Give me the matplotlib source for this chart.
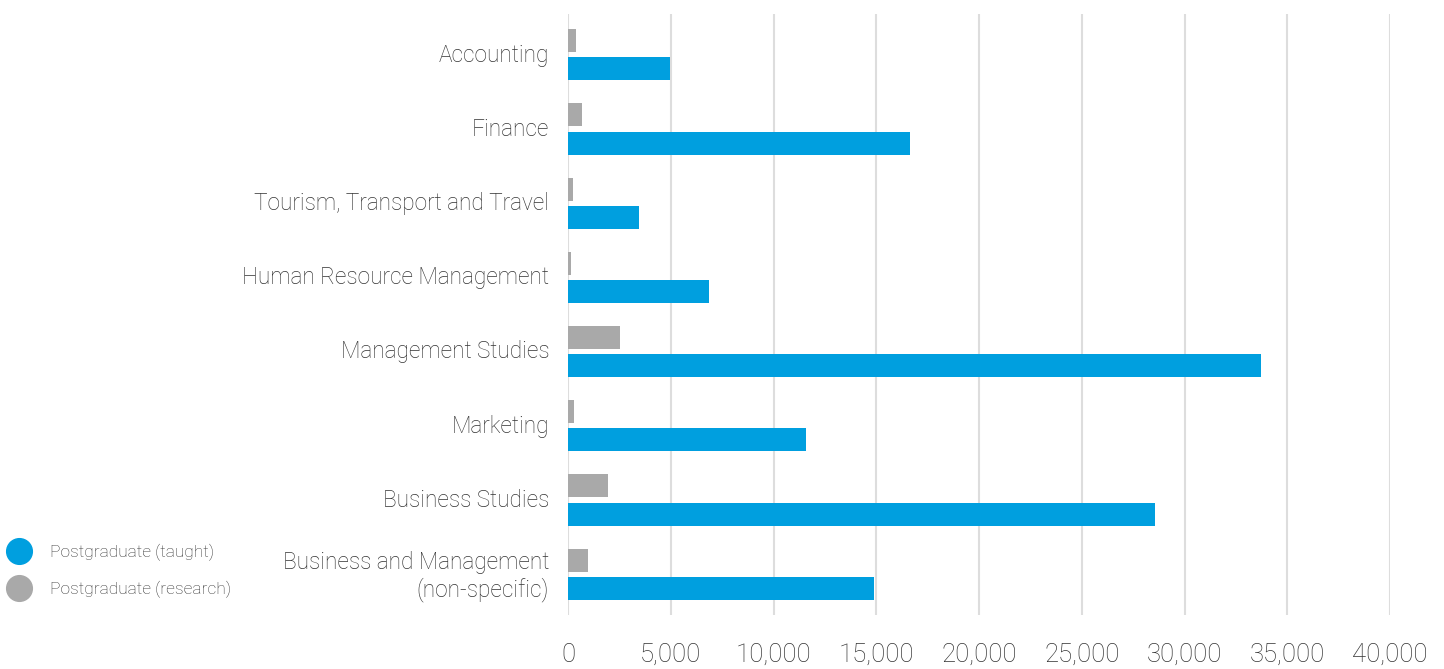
import matplotlib.pyplot as plt
from matplotlib.lines import Line2D
from matplotlib.ticker import FuncFormatter
import numpy as np

plt.rcParams['font.family'] = ['Roboto', 'DejaVu Sans']

# subjects, top to bottom
subjects = [
    "Accounting",
    "Finance",
    "Tourism, Transport and Travel",
    "Human Resource Management",
    "Management Studies",
    "Marketing",
    "Business Studies",
    "Business and Management\n(non-specific)",
]
taught = [4950, 16650, 3450, 6850, 33700, 11600, 28550, 14900]
research = [400, 700, 250, 150, 2550, 300, 1950, 950]
xticks = [0, 5000, 10000, 15000, 20000, 25000, 30000, 35000, 40000]

blue = "#009fdf"
grey = "#a9a9a9"
text_col = "#333333"

fig = plt.figure(figsize=(14.44, 6.69), dpi=100)
ax = fig.add_axes([568 / 1444, 1 - 615 / 669, (1390 - 568) / 1444, (615 - 14) / 669])

y = np.arange(len(subjects))
h = 0.31
ax.barh(y - 0.19, research, height=h, color=grey, zorder=3)
ax.barh(y + 0.19, taught, height=h, color=blue, zorder=3)

ax.set_xlim(0, 40000)
ax.set_ylim(7.55, -0.55)
ax.set_xticks(xticks)
ax.xaxis.set_major_formatter(FuncFormatter(lambda v, p: f"{int(v):,}"))
ax.set_yticks(y - 0.03)
ax.set_yticklabels(subjects, fontweight='light')
ax.tick_params(axis='y', length=0, pad=13.5, labelsize=16.3, labelcolor=text_col)
ax.tick_params(axis='x', length=0, pad=20, labelsize=18.5, labelcolor=text_col)
for lab in ax.get_xticklabels():
    lab.set_fontweight('light')
ax.grid(axis='x', color='#dddddd', linewidth=1.5, zorder=0)
for s in ax.spines.values():
    s.set_visible(False)

handles = [
    Line2D([], [], marker='o', linestyle='', markersize=18.5, color=blue),
    Line2D([], [], marker='o', linestyle='', markersize=18.5, color=grey),
]
leg = fig.legend(handles, ["Postgraduate (taught)", "Postgraduate (research)"],
                 loc='upper left', bbox_to_anchor=(-0.0035, 1 - 537 / 669),
                 frameon=False, fontsize=12.5, labelspacing=1.15,
                 handletextpad=0.75, borderaxespad=0)
for t in leg.get_texts():
    t.set_color(text_col)
    t.set_fontweight('light')

fig.savefig("out.png", dpi=100)
